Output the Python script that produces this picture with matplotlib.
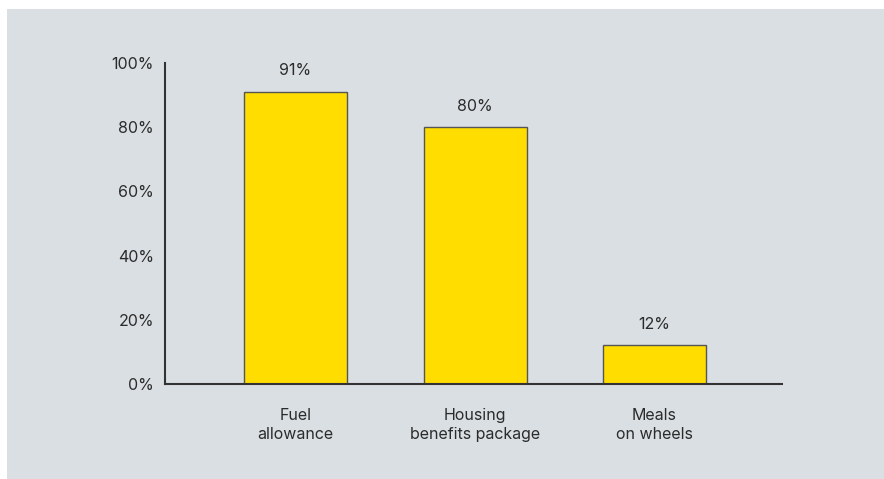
import numpy as np
import matplotlib.pyplot as plt
from matplotlib.patches import Rectangle

categories = ["Fuel\nallowance", "Housing\nbenefits package", "Meals\non wheels"]
values = [91, 80, 12]
yticks = [0, 20, 40, 60, 80, 100]

plt.rcParams['font.family'] = ['Inter', 'DejaVu Sans']
txt = "#2b2b2b"
fs = 11.5

fig = plt.figure(figsize=(8.84, 4.79), dpi=100, facecolor="white")
# grey panel behind the chart
fig.add_artist(Rectangle((7/884, 0), 1, 470/479, transform=fig.transFigure,
                         facecolor="#dadfe3", edgecolor="none", zorder=-1))

ax = fig.add_axes([165/884, 1-384/479, 617/884, 321/479])
ax.set_zorder(1)
ax.set_facecolor("none")
x = np.arange(len(values))
bars = ax.bar(x, values, width=0.574, color="#ffdd00", edgecolor="#555555", linewidth=1)
for xi, v in zip(x, values):
    ax.text(xi, v + 4.2, f"{v}%", ha="center", va="bottom", fontsize=fs, color=txt)

ax.set_xlim(-0.727, 2.71)
ax.set_ylim(0, 100)
ax.set_yticks(yticks)
ax.set_yticklabels([f"{t}%" for t in yticks], fontsize=fs, color=txt)
ax.set_xticks(x)
ax.set_xticklabels(categories, fontsize=fs, color=txt, linespacing=1.35)
ax.tick_params(axis="y", length=0, pad=8)
ax.tick_params(axis="x", length=0, pad=17)
for s in ["top", "right"]:
    ax.spines[s].set_visible(False)
for s in ["left", "bottom"]:
    ax.spines[s].set_color("#333333")
    ax.spines[s].set_linewidth(1.5)

fig.savefig("out.png", dpi=100)
